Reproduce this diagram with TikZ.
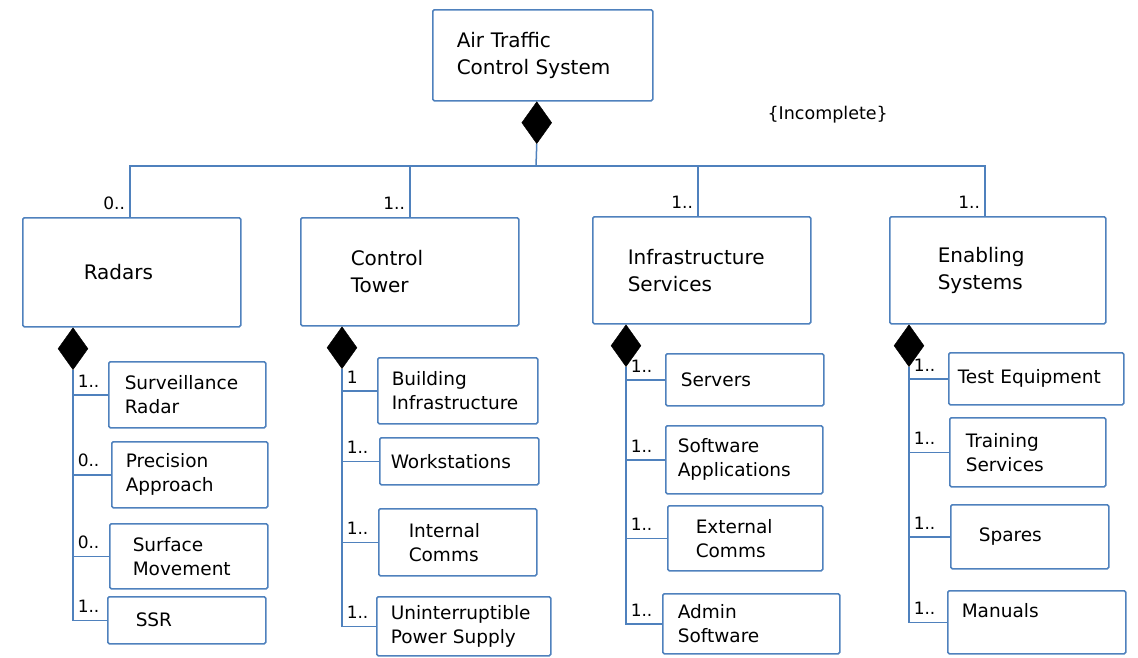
\documentclass[tikz,border=0pt]{standalone}
\usepackage{fontspec}
\setmainfont{DejaVu Sans}
\usepackage{tikz}
\usetikzlibrary{calc,shapes.geometric,positioning}
\definecolor{umlblue}{RGB}{79,129,189}
\tikzset{
  part/.style={draw=umlblue, line width=1.5pt, rectangle, rounded corners=1.5pt, anchor=north west, align=left},
  toppart/.style={part, font=\fontsize{20}{27}\selectfont},
  subpart/.style={part, font=\fontsize{18.5}{24}\selectfont},
  comp/.style={diamond, fill=black, draw=black, inner sep=0pt, minimum width=30pt, minimum height=42pt, anchor=north},
  link/.style={draw=umlblue, line width=1.5pt},
  mult/.style={pos=0.5, anchor=south west, inner sep=1pt, xshift=3pt, yshift=6pt, font=\fontsize{17}{19}\selectfont},
  topmult/.style={pos=0, anchor=south east, inner sep=1pt, xshift=-3pt, yshift=6pt, font=\fontsize{17}{19}\selectfont}
}
\begin{document}
\begin{tikzpicture}[x=1pt,y=-1pt]
  \useasboundingbox (0,0) rectangle (1138,657);

  \node[toppart, text width=172pt, inner xsep=24pt, minimum height=91pt] (atc) at (432,9) {Air Traffic\\Control System};
  \node[comp] (d_atc) at ([xshift=-6pt]atc.south) {};
  \node[anchor=west, font=\fontsize{17.5}{20}\selectfont] (incomplete) at (764,115) {\{Incomplete\}};
  \coordinate (hub) at (536,166);

  \node[toppart, text width=96pt, inner xsep=61pt, minimum height=109pt] (radars) at (22,217) {Radars};
  \node[toppart, text width=118pt, inner xsep=50pt, minimum height=108pt] (ctower) at (300,217) {Control\\Tower};
  \node[toppart, text width=148pt, inner xsep=35pt, minimum height=107pt] (infra) at (592,216) {Infrastructure\\Services};
  \node[toppart, text width=120pt, inner xsep=48pt, minimum height=107pt] (enabling) at (889,216) {Enabling\\Systems};

  \draw[link] (d_atc.south) -- (hub);
  \draw[link] ([xshift=-2pt]radars.north) |- node[topmult] {0..} (hub);
  \draw[link] (ctower.north) |- node[topmult] {1..} (hub);
  \draw[link] ([xshift=-4pt]infra.north) |- node[topmult] {1..} (hub);
  \draw[link] ([xshift=-13pt]enabling.north) |- node[topmult] {1..} (hub);

  \node[comp] (d_radars) at ([xshift=51pt]radars.south west) {};
  \node[comp] (d_ctower) at ([xshift=42pt]ctower.south west) {};
  \node[comp] (d_infra) at ([xshift=34pt]infra.south west) {};
  \node[comp] (d_enabling) at ([xshift=20pt]enabling.south west) {};

  \node[subpart, text width=125pt, inner xsep=16pt, minimum height=66pt] (surv) at (108,361) {Surveillance\\Radar};
  \node[subpart, text width=128pt, inner xsep=14pt, minimum height=66pt] (prec) at (111,441) {Precision\\Approach};
  \node[subpart, text width=112pt, inner xsep=23pt, minimum height=65pt] (surf) at (109,523) {Surface\\Movement};
  \node[subpart, text width=102pt, inner xsep=28pt, minimum height=47pt] (ssr) at (107,596) {SSR};

  \node[subpart, text width=132pt, inner xsep=14pt, minimum height=66pt] (building) at (377,357) {Building\\Infrastructure};
  \node[subpart, text width=137pt, inner xsep=11pt, minimum height=47pt] (work) at (379,437) {Workstations};
  \node[subpart, text width=98pt, inner xsep=30pt, minimum height=67pt] (intcomms) at (378,508) {Internal\\Comms};
  \node[subpart, text width=146pt, inner xsep=14pt, minimum height=59pt] (ups) at (376,596) {Uninterruptible\\Power Supply};

  \node[subpart, text width=128pt, inner xsep=15pt, minimum height=52pt] (servers) at (665,353) {Servers};
  \node[subpart, text width=133pt, inner xsep=12pt, minimum height=68pt] (softapp) at (665,425) {Software\\Applications};
  \node[subpart, text width=99pt, inner xsep=28pt, minimum height=65pt] (extcomms) at (667,505) {External\\Comms};
  \node[subpart, text width=147pt, inner xsep=15pt, minimum height=60pt] (admin) at (662,593) {Admin\\Software};

  \node[subpart, text width=157pt, inner xsep=9pt, minimum height=52pt] (testeq) at (948,352) {Test Equipment};
  \node[subpart, text width=124pt, inner xsep=16pt, minimum height=69pt] (training) at (949,417) {Training\\Services};
  \node[subpart, text width=102pt, inner xsep=28pt, minimum height=64pt] (spares) at (950,504) {Spares};
  \node[subpart, text width=150pt, inner xsep=14pt, minimum height=63pt] (manuals) at (947,590) {Manuals\\~};

  \draw[link] (d_radars.south) |- node[mult] {1..} (surv.west);
  \draw[link] (d_radars.south) |- node[mult] {0..} (prec.west);
  \draw[link] (d_radars.south) |- node[mult] {0..} (surf.west);
  \draw[link] (d_radars.south) |- node[mult] {1..} (ssr.west);

  \draw[link] (d_ctower.south) |- node[mult] {1} (building.west);
  \draw[link] (d_ctower.south) |- node[mult] {1..} (work.west);
  \draw[link] (d_ctower.south) |- node[mult] {1..} (intcomms.west);
  \draw[link] (d_ctower.south) |- node[mult] {1..} (ups.west);

  \draw[link] (d_infra.south) |- node[mult] {1..} (servers.west);
  \draw[link] (d_infra.south) |- node[mult] {1..} (softapp.west);
  \draw[link] (d_infra.south) |- node[mult] {1..} (extcomms.west);
  \draw[link] (d_infra.south) |- node[mult] {1..} (admin.west);

  \draw[link] (d_enabling.south) |- node[mult] {1..} (testeq.west);
  \draw[link] (d_enabling.south) |- node[mult] {1..} (training.west);
  \draw[link] (d_enabling.south) |- node[mult] {1..} (spares.west);
  \draw[link] (d_enabling.south) |- node[mult] {1..} (manuals.west);
\end{tikzpicture}
\end{document}
